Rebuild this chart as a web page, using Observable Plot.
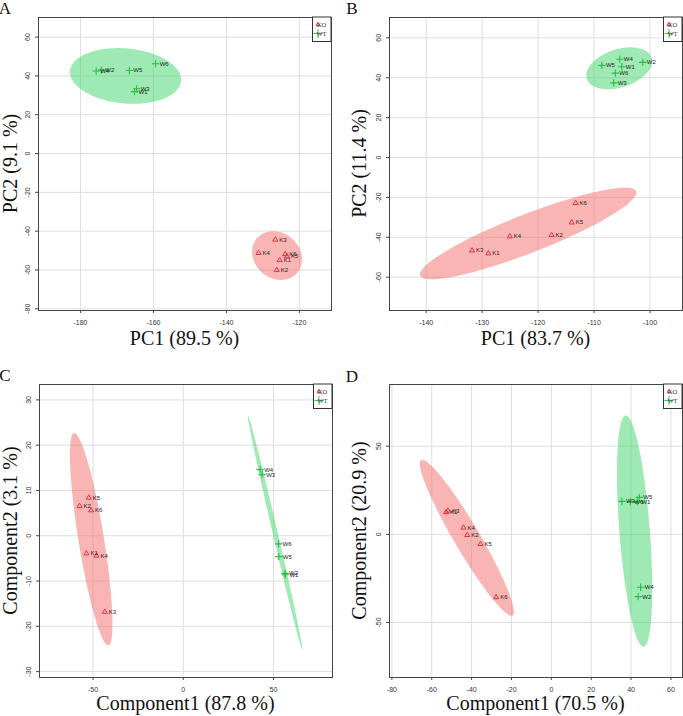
<!DOCTYPE html>
<html><head><meta charset="utf-8">
<script src="https://cdn.jsdelivr.net/npm/d3@7"></script>
<script src="https://cdn.jsdelivr.net/npm/@observablehq/plot@0.6"></script>
<style>
body{margin:0;background:#fff}
#wrap{position:relative;width:683px;height:716px;overflow:hidden}
.panel{position:absolute}
</style></head>
<body><div id="wrap"></div>
<script>
const groups = ["KO", "WT"];
const koNames = ["K1","K2","K3","K4","K5","K6"];
const wtNames = ["W1","W2","W3","W4","W5","W6"];

// Panel A (PCA)
const A_koX = [-125.4,-126.2,-126.6,-131.2,-123.4,-123.9];
const A_koY = [-55.0,-60.1,-44.4,-51.3,-53.0,-51.9];
const A_wtX = [-165.2,-174.3,-164.6,-175.7,-166.6,-159.4];
const A_wtY = [31.9,43.0,33.4,42.5,42.8,46.3];
const A_xTicks = [-180,-160,-140,-120];
const A_yTicks = [-80,-60,-40,-20,0,20,40,60];

// Panel B (PCA)
const B_koX = [-128.9,-117.6,-131.8,-125.05,-114.0,-113.3];
const B_koY = [-48.1,-38.9,-46.6,-39.6,-32.6,-22.8];
const B_wtX = [-105.05,-101.3,-106.5,-105.4,-108.6,-106.2];
const B_wtY = [45.5,47.7,37.4,49.3,46.2,42.3];
const B_xTicks = [-140,-130,-120,-110,-100];
const B_yTicks = [-60,-40,-20,0,20,40,60];

// Panel C (PLS-DA)
const C_koX = [-53.7,-57.5,-43.5,-48.1,-52.4,-51.1];
const C_koY = [-3.9,6.55,-16.8,-4.4,8.4,5.6];
const C_wtX = [56.6,56.4,43.7,42.6,52.9,52.8];
const C_wtY = [-8.6,-8.3,13.5,14.6,-4.6,-1.8];
const C_xTicks = [-50,0,50];
const C_yTicks = [-30,-20,-10,0,10,20,30];

// Panel D (sPLS-DA)
const D_koX = [-52.8,-42.2,-51.9,-44.1,-35.5,-27.7];
const D_koY = [12.6,-0.4,13.4,3.8,-5.5,-35.7];
const D_wtX = [43.1,43.6,35.4,44.8,44.1,39.6];
const D_wtY = [18.4,-35.3,18.7,-30.0,21.0,18.4];
const D_xTicks = [-80,-60,-40,-20,0,20,40,60];
const D_yTicks = [-50,0,50];

const titles = {
  A: ["PC1 (89.5 %)", "PC2 (9.1 %)"],
  B: ["PC1 (83.7 %)", "PC2 (11.4 %)"],
  C: ["Component1 (87.8 %)", "Component2 (3.1 %)"],
  D: ["Component1 (70.5 %)", "Component2 (20.9 %)"]
};

const KO_COL = "#e03444", WT_COL = "#25c044";
const KO_FILL = "#f46a6a", WT_FILL = "#3ed36a";

// 95% normal data ellipse (as ellipse::ellipse / MetaboAnalyst)
function dataEllipse(xs, ys, n = 150) {
  const m = xs.length, mx = d3.mean(xs), my = d3.mean(ys);
  let sxx = 0, syy = 0, sxy = 0;
  for (let i = 0; i < m; i++) {
    sxx += (xs[i]-mx)**2; syy += (ys[i]-my)**2; sxy += (xs[i]-mx)*(ys[i]-my);
  }
  sxx /= (m-1); syy /= (m-1); sxy /= (m-1);
  const sx = Math.sqrt(sxx), sy = Math.sqrt(syy);
  const r = Math.max(-1, Math.min(1, sxy/(sx*sy)));
  const d = Math.acos(r), t = Math.sqrt(5.991464547);
  const pts = [];
  for (let k = 0; k <= n; k++) {
    const a = -Math.PI + 2*Math.PI*k/n;
    pts.push({x: mx + t*sx*Math.cos(a + d/2), y: my + t*sy*Math.cos(a - d/2)});
  }
  return pts;
}

function panel(cfg) {
  const ko = koNames.map((n,i) => ({name:n, x:cfg.koX[i], y:cfg.koY[i]}));
  const wt = wtNames.map((n,i) => ({name:n, x:cfg.wtX[i], y:cfg.wtY[i]}));
  const ellKO = dataEllipse(cfg.koX, cfg.koY);
  const ellWT = dataEllipse(cfg.wtX, cfg.wtY);
  const fmt = d => String(d);
  const svg = Plot.plot({
    width: cfg.w, height: cfg.h,
    marginTop: cfg.m[0], marginRight: cfg.m[1], marginBottom: cfg.m[2], marginLeft: cfg.m[3],
    x: {domain: cfg.xDomain},
    y: {domain: cfg.yDomain},
    style: {fontFamily: "'Liberation Sans', Arial, sans-serif", fontSize: "7px", color: "#333", background: "white", overflow: "visible"},
    marks: [
      Plot.gridX(cfg.xTicks, {stroke: "#dedede", strokeOpacity: 1}),
      Plot.gridY(cfg.yTicks, {stroke: "#dedede", strokeOpacity: 1}),
      Plot.line(ellKO, {x: "x", y: "y", fill: KO_FILL, fillOpacity: 0.5, stroke: "none"}),
      Plot.line(ellWT, {x: "x", y: "y", fill: WT_FILL, fillOpacity: 0.5, stroke: "none"}),
      Plot.dot(ko, {x: "x", y: "y", symbol: "triangle2", r: 2.4, stroke: KO_COL, strokeWidth: 1}),
      Plot.dot(wt, {x: "x", y: "y", symbol: "plus", r: 2.5, stroke: WT_COL, strokeWidth: 1.1}),
      Plot.text(ko, {x: "x", y: "y", text: "name", dx: 4, textAnchor: "start", fontSize: 6, fill: "#222"}),
      Plot.text(wt, {x: "x", y: "y", text: "name", dx: 4, textAnchor: "start", fontSize: 6, fill: "#222"}),
      Plot.axisX(cfg.xTicks, {tickSize: 3, tickPadding: 7, tickFormat: fmt, label: null, stroke: "#444", fill: "#333"}),
      Plot.axisY(cfg.yTicks, {tickSize: 3, tickPadding: 6, tickRotate: -90, tickFormat: fmt, label: null, stroke: "#444", fill: "#333"}),
      Plot.frame({stroke: "#444", strokeWidth: 1})
    ]
  });
  const s = d3.select(svg);
  const fl = cfg.m[3], fr = cfg.w - cfg.m[1], ft = cfg.m[0], fb = cfg.h - cfg.m[2];
  // panel letter
  s.append("text").attr("x", cfg.letterPos[0]).attr("y", cfg.letterPos[1])
    .attr("font-family", "'Liberation Serif', 'Times New Roman', serif").attr("font-size", 17)
    .attr("fill", "#111").text(cfg.letter);
  // x title
  s.append("text").attr("x", (fl+fr)/2).attr("y", fb + cfg.xTitleOff)
    .attr("text-anchor", "middle").attr("font-family", "'Liberation Serif', 'Times New Roman', serif")
    .attr("font-size", 20).attr("fill", "#111").text(titles[cfg.letter][0]);
  // y title
  s.append("text").attr("transform", `translate(${fl - cfg.yTitleOff},${(ft+fb)/2}) rotate(-90)`)
    .attr("text-anchor", "middle").attr("font-family", "'Liberation Serif', 'Times New Roman', serif")
    .attr("font-size", 20).attr("fill", "#111").text(titles[cfg.letter][1]);
  // legend
  const lg = s.append("g").attr("transform", `translate(${fr - 18.5},${ft})`);
  lg.append("rect").attr("x", 0).attr("y", 0).attr("width", 18.5).attr("height", 24.5)
    .attr("fill", "white").attr("stroke", "#333").attr("stroke-width", 1);
  const cols = [KO_COL, WT_COL];
  groups.forEach((g, i) => {
    const cy = 7.5 + i*9;
    const sym = i === 0 ? d3.symbolTriangle2 : d3.symbolPlus;
    lg.append("path").attr("d", d3.symbol(sym, i === 0 ? 12 : 30)())
      .attr("transform", `translate(5.5,${cy})`).attr("fill", "none")
      .attr("stroke", cols[i]).attr("stroke-width", 0.9);
    lg.append("text").attr("x", 9).attr("y", cy + 2.2)
      .attr("font-family", "'Liberation Serif', 'Times New Roman', serif")
      .attr("font-size", 6.5).attr("fill", "#333").text(g);
  });
  const div = document.createElement("div");
  div.className = "panel";
  div.style.left = cfg.left + "px";
  div.style.top = cfg.top + "px";
  div.appendChild(svg);
  document.getElementById("wrap").appendChild(div);
}

panel({letter: "A", left: 0, top: 0, w: 341, h: 358, m: [17, 10, 48, 38],
  xDomain: [-191.5, -111.2], yDomain: [-80.9, 70.1], xTicks: A_xTicks, yTicks: A_yTicks,
  koX: A_koX, koY: A_koY, wtX: A_wtX, wtY: A_wtY, letterPos: [5, 14], xTitleOff: 35, yTitleOff: 21});
panel({letter: "B", left: 341, top: 0, w: 342, h: 358, m: [17, 1, 48, 48],
  xDomain: [-146.55, -94.2], yDomain: [-76.7, 70.2], xTicks: B_xTicks, yTicks: B_yTicks,
  koX: B_koX, koY: B_koY, wtX: B_wtX, wtY: B_wtY, letterPos: [11, 14], xTitleOff: 35, yTitleOff: 23});
panel({letter: "C", left: 0, top: 358, w: 341, h: 358, m: [26, 9, 39, 39],
  xDomain: [-79.7, 82.7], yDomain: [-31.3, 33.4], xTicks: C_xTicks, yTicks: C_yTicks,
  koX: C_koX, koY: C_koY, wtX: C_wtX, wtY: C_wtY, letterPos: [5, 23], xTitleOff: 33, yTitleOff: 22});
panel({letter: "D", left: 341, top: 358, w: 342, h: 358, m: [26, 1, 39, 48],
  xDomain: [-81.2, 65.8], yDomain: [-81.2, 85], xTicks: D_xTicks, yTicks: D_yTicks,
  koX: D_koX, koY: D_koY, wtX: D_wtX, wtY: D_wtY, letterPos: [11, 24], xTitleOff: 33, yTitleOff: 23});
</script>
</body></html>
